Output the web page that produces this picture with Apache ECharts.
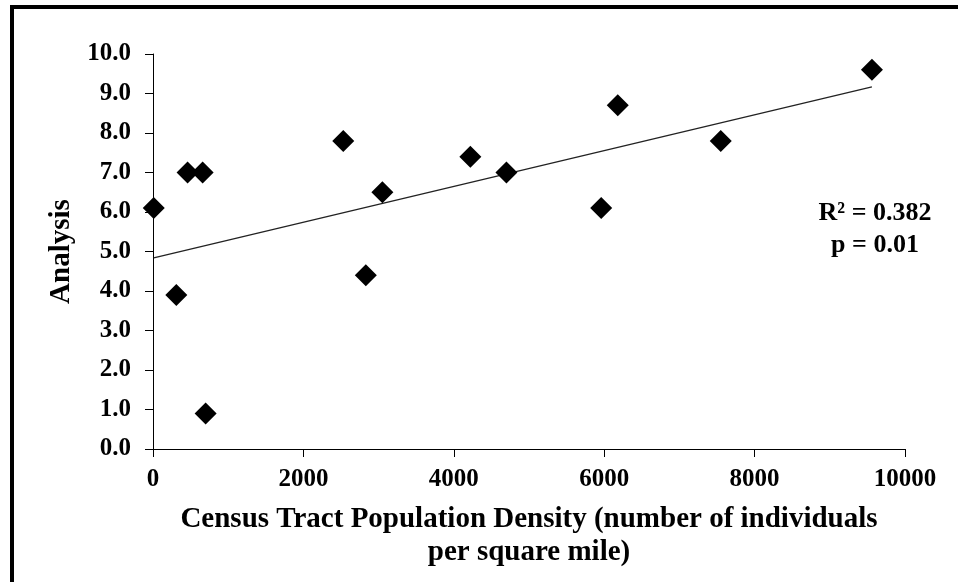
<!DOCTYPE html>
<html>
<head>
<meta charset="utf-8">
<script src="https://cdn.jsdelivr.net/npm/echarts@6/dist/echarts.min.js"></script>
<style>
html,body{margin:0;padding:0;background:#fff;}
#chart{width:958px;height:582px;}
</style>
</head>
<body>
<div id="chart"></div>
<script>
// Data
const densityX = [10, 310, 460, 660, 700, 2530, 2830, 3050, 4220, 4700, 5960, 6180, 7550, 9560];
const analysisY = [6.1, 3.9, 7.0, 7.0, 0.9, 7.8, 4.4, 6.5, 7.4, 7.0, 6.1, 8.7, 7.8, 9.6];
const trendX = [10, 9560];
const trendY = [4.84, 9.17];
const xTitle = 'Census Tract Population Density (number of individuals\nper square mile)';
const yTitle = 'Analysis';
const statsLines = ['R² = 0.382', 'p = 0.01'];

const FONT = '"Liberation Serif", "Times New Roman", serif';
const points = densityX.map((x, i) => [x, analysisY[i]]);
const trend = trendX.map((x, i) => [x, trendY[i]]);

const chart = echarts.init(document.getElementById('chart'));
chart.setOption({
  animation: false,
  backgroundColor: '#fff',
  grid: { left: 153, right: 53, top: 54, bottom: 133, containLabel: false },
  xAxis: {
    type: 'value', min: 0, max: 10000, interval: 2000,
    name: xTitle, nameLocation: 'middle', nameGap: 54,
    nameTextStyle: { fontFamily: FONT, fontWeight: 'bold', fontSize: 29, color: '#000', lineHeight: 33 },
    axisLine: { show: true, lineStyle: { color: '#000', width: 1 } },
    axisTick: { show: true, inside: false, length: 8, lineStyle: { color: '#000' } },
    axisLabel: { fontFamily: FONT, fontWeight: 'bold', fontSize: 25, color: '#000', margin: 18,
      formatter: v => String(v) },
    splitLine: { show: false }
  },
  yAxis: {
    type: 'value', min: 0, max: 10, interval: 1,
    name: yTitle, nameLocation: 'middle', nameGap: 76,
    nameTextStyle: { fontFamily: FONT, fontWeight: 'bold', fontSize: 29, color: '#000' },
    axisLine: { show: true, lineStyle: { color: '#000', width: 1 } },
    axisTick: { show: true, inside: false, length: 8, lineStyle: { color: '#000' } },
    axisLabel: { fontFamily: FONT, fontWeight: 'bold', fontSize: 25, color: '#000', margin: 22,
      formatter: v => v.toFixed(1) },
    splitLine: { show: false }
  },
  series: [
    {
      type: 'line', data: trend, symbol: 'none', silent: true,
      lineStyle: { color: '#222', width: 1.3 }, z: 2
    },
    {
      type: 'scatter', data: points, symbol: 'diamond', symbolSize: 22,
      itemStyle: { color: '#000', opacity: 1 }, z: 3
    }
  ],
  graphic: [
    { type: 'rect', shape: { x: 12, y: 7, width: 2000, height: 2000 },
      style: { fill: 'none', stroke: '#000', lineWidth: 4 }, z: 10 },
    { type: 'text', x: 875, y: 213,
      style: { text: statsLines[0], font: 'bold 26px ' + FONT, fill: '#000', textAlign: 'center', textVerticalAlign: 'middle' } },
    { type: 'text', x: 875, y: 245,
      style: { text: statsLines[1], font: 'bold 26px ' + FONT, fill: '#000', textAlign: 'center', textVerticalAlign: 'middle' } }
  ]
});
</script>
</body>
</html>
